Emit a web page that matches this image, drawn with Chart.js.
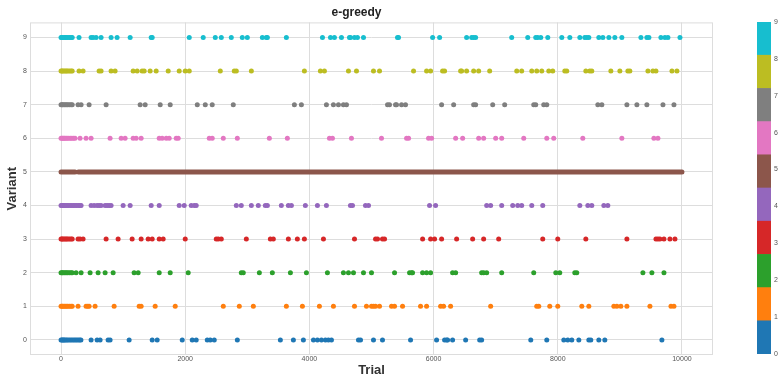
<!DOCTYPE html>
<html>
<head>
<meta charset="utf-8">
<script src="https://cdn.jsdelivr.net/npm/chart.js@4/dist/chart.umd.min.js"></script>
<style>
    body { margin: 0; background: #fff; }
    #wrap { position: relative; width: 781px; height: 377px; overflow: hidden; }
    #mainBox { position: absolute; left: 0; top: 0; width: 744px; height: 377px; }
    #barBox { position: absolute; left: 744px; top: 0; width: 37px; height: 377px; }
</style>
</head>
<body>
<div id="wrap">
    <div id="mainBox"><canvas id="myChart"></canvas></div>
    <div id="barBox"><canvas id="colorBar"></canvas></div>
</div>
<script>
// variant labels and tab10 colours
const variants = ['0', '1', '2', '3', '4', '5', '6', '7', '8', '9'];
const colors = ['#1f77b4', '#ff7f0e', '#2ca02c', '#d62728', '#9467bd', '#8c564b', '#e377c2', '#7f7f7f', '#bcbd22', '#17becf'];

const xTicks = [0, 2000, 4000, 6000, 8000, 10000];
const yTicks = [0, 1, 2, 3, 4, 5, 6, 7, 8, 9];

// trials where each variant was picked
const trialsV0 = [0, 15, 30, 45, 60, 80, 100, 125, 150, 175, 200, 225, 250, 275, 300, 320, 484, 581, 629, 758, 790, 1097, 1468, 1548, 1952, 2113, 2177, 2355, 2403, 2468, 2839, 3532, 3742, 3903, 4065, 4129, 4194, 4258, 4306, 4355, 4790, 4823, 5032, 5177, 5629, 6048, 6177, 6210, 6226, 6306, 6516, 6742, 6774, 7565, 7823, 8097, 8161, 8226, 8339, 8500, 8532, 8661, 8758, 9677];
const trialsV1 = [0, 15, 30, 50, 70, 90, 110, 135, 160, 180, 274, 403, 430, 452, 548, 855, 1258, 1290, 1516, 1839, 2613, 2871, 3097, 3629, 3887, 4161, 4387, 4726, 4919, 5000, 5032, 5065, 5129, 5323, 5371, 5500, 5790, 5887, 6113, 6161, 6274, 6919, 7661, 7694, 7871, 8000, 8387, 8500, 8903, 8952, 9016, 9113, 9484, 9823, 9871];
const trialsV2 = [0, 15, 30, 50, 70, 90, 110, 135, 160, 180, 242, 323, 468, 597, 710, 839, 1177, 1242, 1581, 1758, 2048, 2903, 2935, 3194, 3403, 3694, 3952, 4290, 4548, 4629, 4710, 4871, 5000, 5371, 5613, 5645, 5661, 5823, 5887, 5952, 6306, 6355, 6774, 6806, 6855, 7097, 7613, 7968, 8032, 8274, 8306, 9371, 9516, 9710];
const trialsV3 = [0, 15, 30, 50, 70, 90, 110, 135, 160, 180, 274, 306, 355, 726, 919, 1145, 1290, 1403, 1468, 1581, 1645, 2000, 2500, 2532, 2581, 2984, 3371, 3419, 3661, 3806, 3919, 4226, 4726, 5065, 5097, 5177, 5210, 5823, 5952, 6016, 6129, 6371, 6629, 6806, 7048, 7758, 8000, 8452, 9113, 9581, 9613, 9645, 9710, 9806, 9887];
const trialsV4 = [0, 15, 30, 45, 60, 80, 100, 125, 150, 175, 200, 225, 250, 275, 300, 323, 484, 532, 580, 613, 645, 710, 742, 774, 806, 1000, 1113, 1452, 1581, 1903, 1984, 2097, 2145, 2177, 2823, 2903, 3065, 3177, 3290, 3323, 3548, 3661, 3710, 3935, 4129, 4274, 4661, 4694, 4903, 4952, 5935, 6032, 6855, 6919, 7097, 7274, 7355, 7419, 7581, 7758, 8355, 8484, 8548, 8742, 8806];
// variant 5 was picked almost every trial: runs of consecutive trials
const runsV5 = [[0, 225], [280, 10000]];
const trialsV6 = [0, 15, 30, 45, 60, 80, 100, 125, 150, 175, 200, 225, 306, 403, 484, 790, 968, 1032, 1161, 1210, 1290, 1581, 1629, 1694, 1742, 1855, 1887, 2387, 2435, 2613, 2839, 3355, 3645, 4323, 4371, 4677, 5161, 5565, 5597, 5919, 5968, 6355, 6468, 6726, 6806, 7000, 7097, 7452, 7823, 7935, 8403, 9032, 9548, 9613];
const trialsV7 = [0, 15, 30, 50, 70, 90, 110, 135, 160, 180, 274, 323, 452, 726, 1274, 1355, 1597, 1758, 2194, 2323, 2435, 2774, 3758, 3871, 4274, 4387, 4468, 4548, 4597, 5258, 5290, 5387, 5403, 5484, 5548, 6129, 6323, 6645, 6677, 6952, 7145, 7613, 7645, 7774, 7823, 8645, 8710, 9113, 9274, 9435, 9694, 9871];
const trialsV8 = [0, 15, 30, 50, 70, 90, 110, 135, 160, 180, 290, 355, 613, 645, 806, 871, 1161, 1226, 1306, 1339, 1435, 1532, 1726, 1903, 2000, 2065, 2565, 2790, 2823, 3065, 3919, 4177, 4242, 4629, 4758, 5032, 5129, 5677, 5887, 5952, 6145, 6177, 6435, 6452, 6532, 6645, 6726, 6903, 7339, 7419, 7581, 7661, 7742, 7855, 7919, 8113, 8145, 8452, 8516, 8548, 8855, 9000, 9129, 9161, 9452, 9532, 9581, 9839, 9919];
const trialsV9 = [0, 15, 30, 50, 70, 90, 110, 135, 160, 180, 290, 484, 516, 565, 645, 806, 903, 1113, 1452, 1468, 2065, 2290, 2484, 2581, 2742, 2919, 3000, 3242, 3306, 3323, 3629, 4210, 4339, 4403, 4516, 4645, 4661, 4726, 4774, 4871, 5419, 5435, 5984, 6097, 6532, 6613, 6645, 6677, 7258, 7516, 7645, 7677, 7726, 7839, 8065, 8194, 8355, 8435, 8468, 8500, 8661, 8726, 8823, 8919, 9032, 9339, 9435, 9468, 9661, 9726, 9774, 9968];

const pointSets = [trialsV0, trialsV1, trialsV2, trialsV3, trialsV4, null, trialsV6, trialsV7, trialsV8, trialsV9];

const fontName = 'Liberation Sans';
const tickFont = { family: fontName, size: 7, lineHeight: 1 };
const tickColor = '#555555';
const gridColor = '#dddddd';

let datasets = [];
pointSets.forEach(function (trials, v) {
    if (trials) {
        datasets.push({
            label: variants[v],
            data: trials.map(function (t) { return { x: t, y: v }; }),
            backgroundColor: colors[v],
            borderWidth: 0,
            pointRadius: 2.5,
            showLine: false
        });
    } else {
        let runData = [];
        runsV5.forEach(function (run, i) {
            if (i > 0) runData.push({ x: (runsV5[i - 1][1] + run[0]) / 2, y: null });
            runData.push({ x: run[0], y: v });
            runData.push({ x: run[1], y: v });
        });
        datasets.push({
            label: variants[v],
            data: runData,
            borderColor: colors[v],
            backgroundColor: colors[v],
            borderWidth: 5,
            borderCapStyle: 'round',
            pointRadius: 0,
            showLine: true,
            spanGaps: false
        });
    }
});

// light frame round the plot area
const framePlugin = {
    id: 'frame',
    afterDraw(chart) {
        const a = chart.chartArea;
        const c = chart.ctx;
        c.save();
        c.strokeStyle = gridColor;
        c.lineWidth = 1;
        c.strokeRect(a.left + 0.5, a.top + 0.5, a.right - a.left - 1, a.bottom - a.top - 1);
        c.restore();
    }
};

function plainLabel(value) {
    return String(value);
}

const ctx = document.getElementById('myChart');
const mainChart = new Chart(ctx, {
    type: 'scatter',
    data: { datasets: datasets },
    plugins: [framePlugin],
    options: {
        responsive: true,
        maintainAspectRatio: false,
        animation: false,
        layout: { padding: { left: 0, right: 31, top: 0, bottom: 0 } },
        plugins: {
            legend: { display: false },
            tooltip: { enabled: false },
            title: {
                display: true,
                text: 'e-greedy',
                color: '#222222',
                font: { family: fontName, size: 12, weight: 'bold', lineHeight: 1.2 },
                padding: { top: 5, bottom: 3 }
            }
        },
        scales: {
            x: {
                type: 'linear',
                min: -500,
                max: 10500,
                afterBuildTicks: function (axis) { axis.ticks = xTicks.map(function (v) { return { value: v }; }); },
                grid: { color: gridColor, drawTicks: false },
                border: { display: false },
                ticks: { color: tickColor, font: tickFont, padding: 1, maxRotation: 0, callback: plainLabel },
                title: {
                    display: true,
                    text: 'Trial',
                    color: '#333333',
                    font: { family: fontName, size: 13, weight: 'bold', lineHeight: 1 },
                    padding: { top: 0, bottom: 0 }
                }
            },
            y: {
                type: 'linear',
                min: -0.45,
                max: 9.45,
                afterBuildTicks: function (axis) { axis.ticks = yTicks.map(function (v) { return { value: v }; }); },
                grid: { color: gridColor, drawTicks: false },
                border: { display: false },
                ticks: { color: tickColor, font: tickFont, padding: 3, callback: plainLabel },
                title: {
                    display: true,
                    text: 'Variant',
                    color: '#333333',
                    font: { family: fontName, size: 13, weight: 'bold', lineHeight: 1.2 },
                    padding: { top: 4.5, bottom: 0 }
                }
            }
        }
    }
});

// colour bar: ten bands spread over 0..9
const bandSize = 9 / variants.length;
const barCtx = document.getElementById('colorBar');
const colorBarChart = new Chart(barCtx, {
    type: 'bar',
    data: {
        labels: [''],
        datasets: variants.map(function (v, i) {
            return {
                label: v,
                data: [[i * bandSize, (i + 1) * bandSize]],
                backgroundColor: colors[i],
                borderWidth: 0,
                barPercentage: 1,
                categoryPercentage: 1,
                grouped: false
            };
        })
    },
    options: {
        responsive: true,
        maintainAspectRatio: false,
        animation: false,
        layout: { padding: { left: 13, right: 0, top: 22, bottom: 23 } },
        plugins: { legend: { display: false }, tooltip: { enabled: false } },
        scales: {
            x: { display: false },
            y: {
                position: 'right',
                min: 0,
                max: 9,
                afterBuildTicks: function (axis) { axis.ticks = yTicks.map(function (v) { return { value: v }; }); },
                grid: { display: false, drawTicks: false },
                border: { display: false },
                ticks: { color: tickColor, font: tickFont, padding: 3, callback: plainLabel }
            }
        }
    }
});
</script>
</body>
</html>
